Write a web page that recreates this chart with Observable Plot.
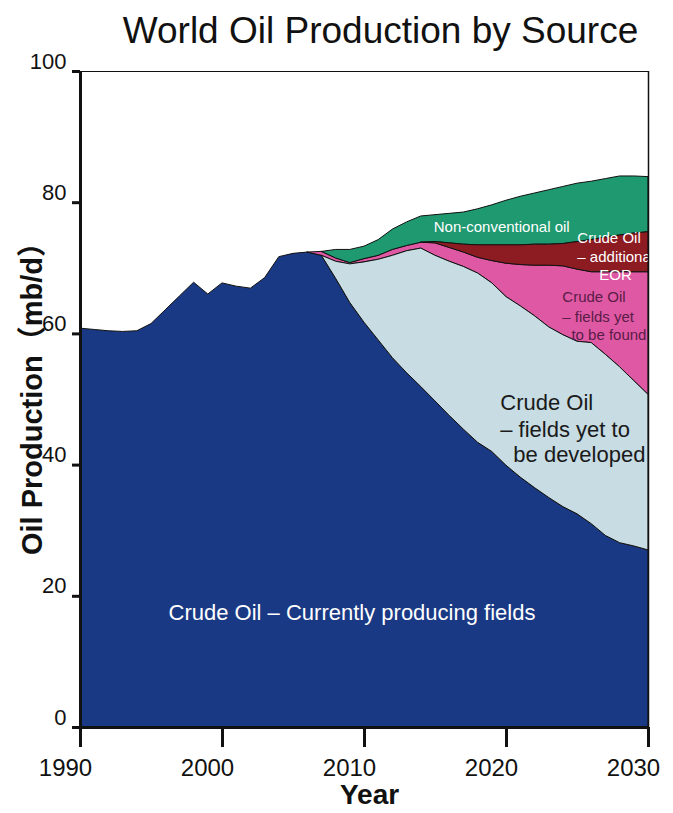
<!DOCTYPE html>
<html>
<head>
<meta charset="utf-8">
<script src="https://cdn.jsdelivr.net/npm/d3@7"></script>
<script src="https://cdn.jsdelivr.net/npm/@observablehq/plot@0.6"></script>
<style>
  html, body { margin: 0; padding: 0; background: #ffffff; }
  #chart svg { display: block; }
</style>
</head>
<body>
<div id="chart"></div>
<script>
// ---- Data (mb/d) ----
const titleText = "World Oil Production by Source";
const xLabel = "Year";
const yLabel = "Oil Production（mb/d）";

const years = d3.range(1990, 2031);
// Crude oil – currently producing fields, 1990..2030
const currentFields = [
  60.8, 60.6, 60.4, 60.3, 60.4, 61.5, 63.6, 65.7, 67.8, 66.0,
  67.7, 67.2, 66.9, 68.5, 71.7, 72.2, 72.4, 71.9, 68.4, 64.7,
  61.7, 59.0, 56.3, 54.0, 51.9, 49.7, 47.5, 45.4, 43.4, 42.0,
  39.9, 38.1, 36.5, 35.0, 33.6, 32.5, 31.0, 29.2, 28.1, 27.6, 27.0
];

const projYears = d3.range(2006, 2031);
// Crude oil – fields yet to be developed, 2006..2030
const yetToDevelop = [
  null, 0, 2.6, 5.9, 9.2, 12.3, 15.6, 18.6, 21.1, 22.2,
  23.5, 24.8, 25.8, 25.7, 25.7, 26.1, 26.2, 26.0, 26.2, 26.3,
  27.6, 27.6, 26.8, 25.2, 23.7
];
// Crude oil – fields yet to be found, 2006..2030
const yetToFind = [
  0, 0.6, 0.5, 0.2, 0.5, 0.6, 0.9, 0.8, 0.9, 1.9,
  2.1, 2.2, 2.4, 3.4, 5.1, 6.3, 7.7, 9.4, 10.5, 11.0,
  10.8, 12.6, 14.5, 16.6, 18.7
];
// Crude oil – additional EOR, 2006..2030
const additionalEOR = [
  null, null, null, null, null, null, null, null, 0, 0.2,
  0.7, 1.2, 1.9, 2.4, 2.8, 3.0, 3.2, 3.2, 3.4, 4.2,
  4.9, 5.3, 5.6, 5.9, 6.1
];
// Non-conventional oil, 2006..2030
const nonConventional = [
  null, 0, 1.3, 2.0, 1.9, 2.4, 3.1, 3.6, 4.0, 4.1,
  4.5, 4.9, 5.5, 6.1, 6.8, 7.4, 7.8, 8.3, 8.7, 8.9,
  8.9, 8.9, 9.0, 8.7, 8.4
];

const sources = ["current", "develop", "find", "eor", "nonconv"];
const sourceColors = ["#1a3984", "#c7dce3", "#df58a3", "#8d1b22", "#1f9970"];

const xTicks = [1990, 2000, 2010, 2020, 2030];
const yTicks = [0, 20, 40, 60, 80, 100];

// Area annotations (text, position in data units)
const labelText = [
  "Crude Oil – Currently producing fields",
  "Crude Oil", "– fields yet to", "be developed",
  "Non-conventional oil",
  "Crude Oil", "– additional", "EOR",
  "Crude Oil", "– fields yet", "to be found"
];
const labelYear = [2009.12, 2019.56, 2019.56, 2020.48, 2019.66, 2024.99, 2024.99, 2026.54, 2023.93, 2023.93, 2024.57];
const labelValue = [17.5, 49.4, 45.3, 41.5, 76.3, 74.65, 71.7, 68.9, 65.6, 62.55, 59.76];
const labelGroup = ["current", "develop", "develop", "develop", "nonconv", "eor", "eor", "eor", "find", "find", "find"];

// ---- Build tidy table ----
const rows = [];
years.forEach((y, i) => rows.push({year: y, source: "current", value: currentFields[i]}));
const projSeries = {develop: yetToDevelop, find: yetToFind, eor: additionalEOR, nonconv: nonConventional};
projYears.forEach((y, i) => {
  for (const [k, arr] of Object.entries(projSeries)) {
    if (arr[i] != null) rows.push({year: y, source: k, value: arr[i]});
  }
});
const labels = labelText.map((t, i) => ({text: t, year: labelYear[i], value: labelValue[i], group: labelGroup[i]}));

const font = "'Liberation Sans', Arial, Helvetica, sans-serif";
const labelStyle = {
  current: {fill: "#ffffff", size: 22, anchor: "middle"},
  develop: {fill: "#1a1a1a", size: 22, anchor: "start"},
  nonconv: {fill: "#ffffff", size: 15, anchor: "middle"},
  eor: {fill: "#ffffff", size: 15, anchor: "start"},
  find: {fill: "#5a1c48", size: 15, anchor: "start"}
};
const labelMarks = Object.keys(labelStyle).map(g => Plot.text(labels.filter(d => d.group === g), {
  x: "year", y: "value", text: "text",
  fill: labelStyle[g].fill, fontSize: labelStyle[g].size, textAnchor: labelStyle[g].anchor,
  fontFamily: font, clip: true
}));

const chart = Plot.plot({
  width: 673,
  height: 813,
  marginLeft: 80,
  marginRight: 25,
  marginTop: 71,
  marginBottom: 86,
  style: {fontFamily: font, background: "#ffffff", color: "#111"},
  x: {domain: [1990, 2030], label: null},
  y: {domain: [0, 100], label: null},
  color: {domain: sources, range: sourceColors},
  marks: [
    Plot.areaY(rows, {x: "year", y: "value", z: "source", fill: "source", order: sources,
      stroke: "#111", strokeWidth: 1, strokeLinejoin: "round"}),
    ...labelMarks,
    Plot.ruleY([100], {stroke: "#111", strokeWidth: 1.2}),
    Plot.ruleX([2030], {stroke: "#111", strokeWidth: 1.5}),
    Plot.ruleY([0], {stroke: "#111", strokeWidth: 3}),
    Plot.ruleX([1990], {stroke: "#111", strokeWidth: 3, y1: -1, y2: 100}),
    // y ticks
    Plot.axisY(yTicks, {tickSize: 8, strokeWidth: 3, stroke: "#111", tickFormat: () => "", label: null}),
    Plot.axisY(yTicks, {tickSize: 0, tickPadding: 14, dy: -10, fontSize: 22, fill: "#111", tickFormat: d => String(d), label: null}),
    // x ticks
    Plot.axisX(xTicks, {tickSize: 20, strokeWidth: 3, stroke: "#111", tickFormat: () => "", label: null}),
    Plot.axisX(xTicks, {tickSize: 0, tickPadding: 31, dx: -15, fontSize: 24, fill: "#111", tickFormat: d => String(d), label: null}),
    // axis titles
    Plot.text([xLabel], {frameAnchor: "bottom", dx: 5, dy: 76, fontSize: 28, fontWeight: "bold", fill: "#111"}),
    Plot.text([yLabel], {frameAnchor: "left", textAnchor: "middle", dx: -48, dy: -8, rotate: -90, fontSize: 29, fontWeight: "bold", fill: "#111",
      fontFamily: "'Liberation Sans', Arial, 'Noto Sans CJK JP', sans-serif"}),
    // title
    Plot.text([titleText], {frameAnchor: "top", dx: 16, dy: -55, fontSize: 37, fill: "#111"})
  ]
});
document.getElementById("chart").appendChild(chart);
</script>
</body>
</html>
